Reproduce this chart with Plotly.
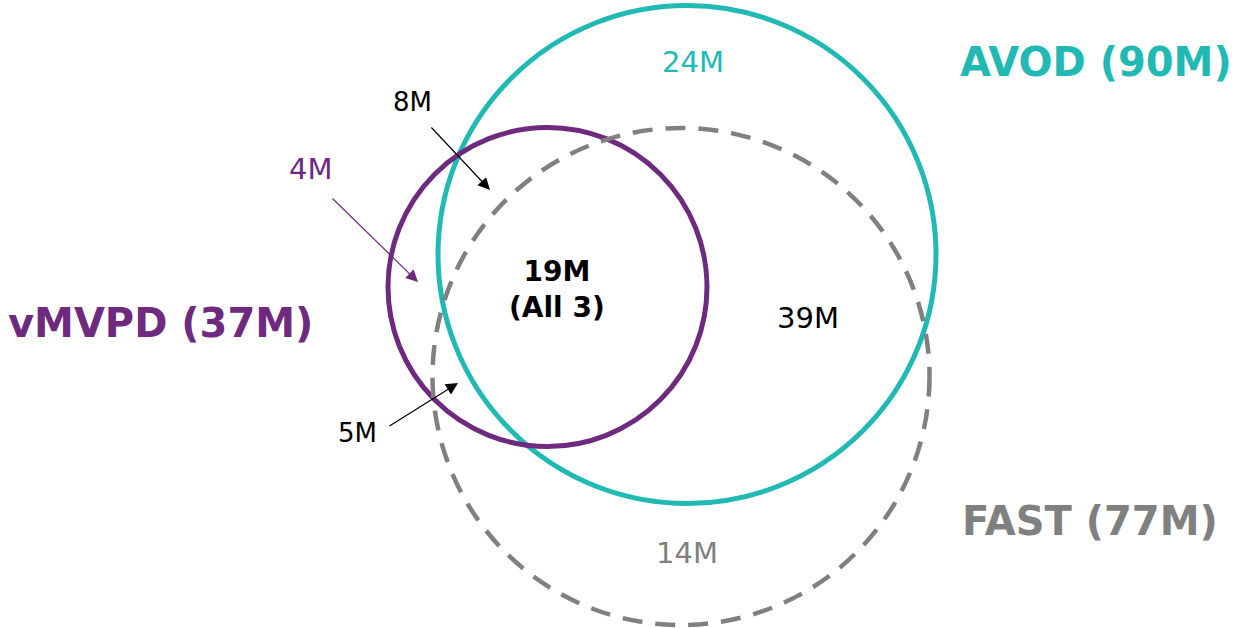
import plotly.graph_objects as go

# ---- data ----
set_names = ["AVOD", "FAST", "vMVPD"]
set_totals = [90, 77, 37]  # millions
region_names = ["AVOD only", "AVOD+FAST", "FAST only", "vMVPD+AVOD", "vMVPD+AVOD (not FAST)", "vMVPD+FAST", "All 3"]
region_values = [24, 39, 14, 4, 8, 5, 19]

# ---- layout geometry (pixel space of the 1239x628 page) ----
W, H = 1239, 628
circle_cx = {"AVOD": 687, "FAST": 681, "vMVPD": 547.5}
circle_cy = {"AVOD": 254.5, "FAST": 376.5, "vMVPD": 287}
circle_r = {"AVOD": 249, "FAST": 248.5, "vMVPD": 159.5}
colors = {"AVOD": "#21B9B4", "FAST": "#808080", "vMVPD": "#6E2A7F"}
dashes = {"AVOD": "solid", "FAST": "20px,13px", "vMVPD": "solid"}
widths = {"AVOD": 5, "FAST": 4.5, "vMVPD": 5}

FONT = "DejaVu Sans"

fig = go.Figure()
fig.add_trace(go.Scatter(x=[0, W], y=[0, H],
                         mode="markers", marker=dict(opacity=0), hoverinfo="skip", showlegend=False))

for name in ["AVOD", "vMVPD", "FAST"]:
    cx, cy, r = circle_cx[name], circle_cy[name], circle_r[name]
    fig.add_shape(type="circle", xref="x", yref="y",
                  x0=cx - r, x1=cx + r, y0=cy - r, y1=cy + r,
                  line=dict(color=colors[name], width=widths[name], dash=dashes[name]))

# set title labels
title_pos = {"AVOD": (1096, 62), "FAST": (1090, 521), "vMVPD": (160, 323)}
for name, total in zip(set_names, set_totals):
    x, y = title_pos[name]
    fig.add_annotation(x=x, y=y, text=f"<b>{name} ({total}M)</b>", showarrow=False,
                       font=dict(family=FONT, size=40, color=colors[name]),
                       xanchor="center", yanchor="middle")

# region labels
label_pos = [(693, 62), (808, 318), (687, 553), (310, 169), (412, 102), (357, 433), (557, 289)]
label_colors = [colors["AVOD"], "#000000", colors["FAST"], colors["vMVPD"], "#000000", "#000000", "#000000"]
label_sizes = [29, 29, 29, 29, 26, 26, 28]
for i, (val, (x, y), c, s) in enumerate(zip(region_values, label_pos, label_colors, label_sizes)):
    if region_names[i] == "All 3":
        txt = f"<b>{val}M<br>(All 3)</b>"
    else:
        txt = f"{val}M"
    fig.add_annotation(x=x, y=y, text=txt, showarrow=False,
                       font=dict(family=FONT, size=s, color=c),
                       xanchor="center", yanchor="middle")

# arrows (tail -> head)
arrows = [((430, 126), (490, 190), "#000000"),
          ((331, 197), (418, 282), colors["vMVPD"]),
          ((388, 427), (458, 383), "#000000")]
for (tx, ty), (hx, hy), c in arrows:
    fig.add_annotation(x=hx, y=hy, ax=tx, ay=ty, xref="x", yref="y", axref="x", ayref="y",
                       text="", showarrow=True, arrowhead=2, arrowsize=2,
                       arrowwidth=1.2, arrowcolor=c)

fig.update_layout(width=W, height=H,
                  margin=dict(l=0, r=0, t=0, b=0),
                  paper_bgcolor="white", plot_bgcolor="white", showlegend=False,
                  xaxis=dict(range=[0, W], visible=False, fixedrange=True),
                  yaxis=dict(range=[H, 0], visible=False, fixedrange=True))

fig.write_html("out.html", config={"displayModeBar": False},
               post_script="document.body.style.margin='0';document.body.style.overflow='hidden';")
